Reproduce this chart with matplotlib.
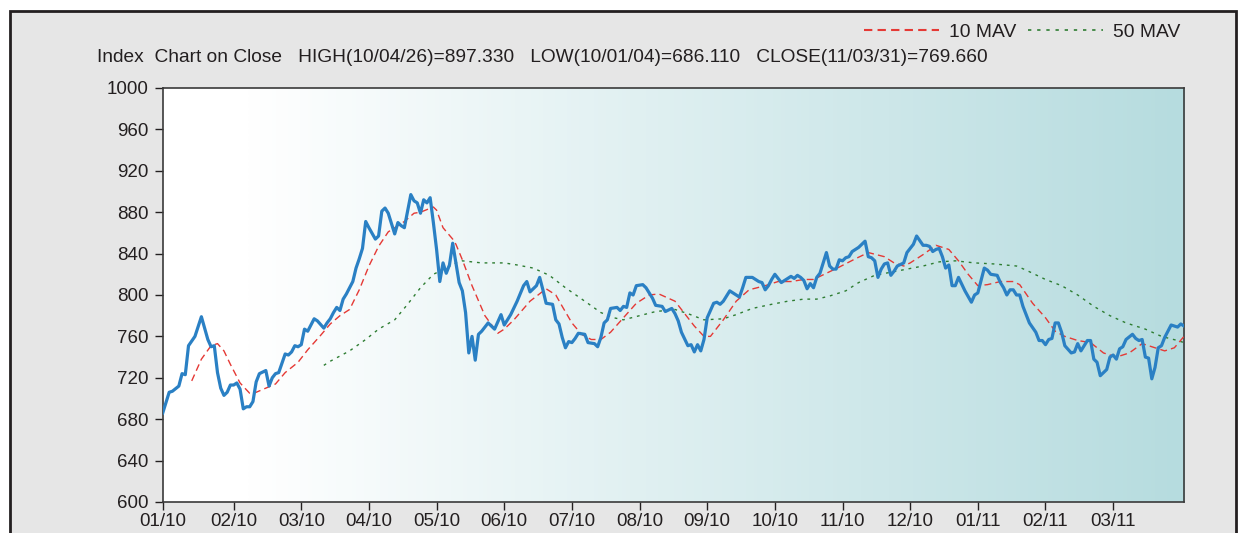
import numpy as np
import matplotlib.pyplot as plt
from matplotlib.colors import LinearSegmentedColormap
from matplotlib.lines import Line2D
from matplotlib.patches import Rectangle

plt.rcParams['font.family'] = ['Liberation Sans', 'DejaVu Sans']

title = ("Index  Chart on Close   HIGH(10/04/26)=897.330   "
         "LOW(10/01/04)=686.110   CLOSE(11/03/31)=769.660")

# x axis: trading day index since 2010-01-04
month_labels = ['01/10', '02/10', '03/10', '04/10', '05/10', '06/10', '07/10', '08/10',
                '09/10', '10/10', '11/10', '12/10', '01/11', '02/11', '03/11']
month_days = [0, 22, 43, 64, 85, 106, 127, 148, 169, 190, 211, 232, 253, 274, 295]
last_day = 317
y_ticks = list(range(600, 1001, 40))

close_day = [0, 1, 2, 3, 5, 6, 7, 8, 10, 12, 14, 15, 16, 17, 18, 19, 20, 21, 22, 23, 24, 25, 26,
             27, 28, 29, 30, 32, 33, 34, 35, 36, 38, 39, 40, 41, 42, 43, 44, 45, 47, 48, 50, 51,
             52, 53, 54, 55, 56, 57, 59, 60, 61, 62, 63, 64, 66, 67, 68, 69, 70, 72, 73, 74, 75,
             76, 77, 78, 79, 80, 81, 82, 83, 84, 85, 86, 87, 88, 89, 90, 92, 93, 94, 95, 96, 97,
             98, 99, 101, 103, 105, 106, 108, 110, 112, 113, 114, 116, 117, 118, 119, 121, 122,
             123, 124, 125, 126, 127, 128, 129, 131, 132, 134, 135, 136, 137, 138, 139, 141, 142,
             143, 144, 145, 146, 147, 149, 150, 152, 153, 155, 156, 158, 159, 160, 161, 163, 164,
             165, 166, 167, 168, 169, 171, 172, 173, 174, 176, 177, 179, 180, 181, 183, 185, 186,
             187, 188, 189, 190, 191, 192, 193, 195, 196, 197, 198, 199, 200, 201, 202, 203, 204,
             205, 206, 207, 208, 209, 210, 211, 212, 213, 214, 216, 217, 218, 219, 220, 221, 222,
             223, 224, 225, 226, 227, 228, 230, 231, 233, 234, 236, 237, 238, 239, 240, 241, 242,
             243, 244, 245, 246, 247, 249, 251, 252, 253, 255, 256, 257, 259, 260, 261, 262, 263,
             264, 265, 266, 267, 269, 271, 272, 273, 274, 275, 276, 277, 278, 279, 280, 282, 283,
             284, 285, 287, 288, 289, 290, 291, 293, 294, 295, 296, 297, 298, 299, 301, 302, 303,
             304, 305, 306, 307, 308, 309, 310, 311, 313, 315, 316, 317]
close = [686, 696, 706, 707, 712, 724, 723, 751, 760, 779, 757, 750, 751, 725, 710, 703, 706, 713,
         713, 715, 709, 690, 692, 692, 697, 716, 724, 727, 712, 720, 724, 725, 743, 742, 745, 751,
         750, 752, 767, 765, 777, 775, 768, 773, 777, 783, 788, 785, 796, 801, 813, 826, 835, 845,
         871, 865, 854, 857, 881, 884, 879, 859, 870, 867, 865, 881, 897, 891, 889, 879, 892, 889,
         894, 870, 844, 813, 831, 821, 829, 850, 812, 804, 783, 744, 760, 737, 762, 765, 773, 767,
         781, 771, 781, 794, 809, 813, 803, 809, 817, 805, 792, 791, 776, 772, 759, 749, 755, 754,
         758, 763, 762, 754, 753, 750, 759, 773, 776, 787, 788, 785, 789, 788, 802, 800, 809, 810,
         807, 797, 790, 789, 784, 787, 782, 775, 764, 751, 752, 745, 752, 746, 757, 778, 792, 793,
         791, 794, 804, 802, 798, 807, 817, 817, 813, 812, 805, 809, 815, 820, 816, 812, 814, 818,
         816, 819, 817, 814, 806, 811, 807, 817, 821, 831, 841, 828, 825, 825, 834, 833, 836, 837,
         842, 846, 849, 852, 837, 836, 833, 817, 825, 830, 831, 819, 823, 828, 831, 841, 849, 857,
         848, 848, 847, 842, 844, 845, 837, 826, 829, 809, 809, 817, 804, 793, 800, 802, 826, 824,
         820, 819, 812, 807, 800, 805, 805, 800, 800, 789, 773, 764, 756, 756, 752, 757, 758, 773,
         773, 764, 751, 744, 745, 753, 746, 756, 756, 738, 735, 722, 728, 740, 742, 738, 748, 750,
         757, 762, 758, 756, 757, 740, 739, 719, 730, 749, 751, 759, 771, 769, 772, 770]

mav10_day = [9, 12, 15, 17, 19, 21, 24, 27, 29, 32, 35, 38, 42, 45, 49, 52, 55, 58, 61, 64, 67,
             70, 73, 75, 78, 80, 84, 85, 87, 90, 91, 93, 96, 100, 104, 106, 109, 114, 119, 122,
             124, 127, 130, 133, 136, 139, 143, 147, 151, 154, 159, 161, 165, 168, 170, 174, 178,
             182, 187, 191, 195, 199, 202, 206, 210, 215, 219, 224, 227, 230, 232, 236, 240, 244,
             247, 250, 253, 256, 260, 264, 266, 270, 274, 277, 280, 284, 288, 292, 296, 300, 304,
             308, 311, 314, 317]
mav10 = [717, 738, 751, 753, 746, 733, 715, 705, 706, 710, 714, 725, 735, 747, 761, 772, 780, 786,
         805, 828, 847, 861, 867, 871, 879, 880, 885, 882, 865, 854, 849, 834, 809, 780, 763, 767,
         776, 794, 806, 800, 789, 773, 762, 757, 757, 764, 778, 792, 800, 801, 794, 786, 770, 760,
         760, 776, 794, 805, 809, 813, 813, 815, 815, 821, 827, 835, 841, 837, 831, 828, 831, 839,
         848, 844, 833, 820, 809, 810, 813, 813, 810, 792, 778, 765, 760, 756, 754, 744, 740, 744,
         753, 749, 746, 749, 760]

mav50_day = [50, 52, 58, 63, 67, 72, 76, 80, 84, 88, 91, 93, 99, 106, 110, 115, 120, 125, 131,
             136, 140, 143, 148, 153, 159, 163, 168, 174, 178, 183, 189, 194, 199, 203, 207, 212,
             216, 221, 226, 231, 236, 241, 246, 252, 258, 265, 268, 274, 279, 284, 289, 294, 299,
             305, 310, 315, 317]
mav50 = [732, 736, 746, 757, 767, 776, 791, 807, 820, 826, 831, 833, 831, 831, 829, 826, 819, 807,
         794, 783, 778, 776, 780, 784, 786, 782, 776, 777, 781, 787, 791, 794, 796, 796, 799, 804,
         812, 819, 822, 825, 828, 832, 833, 831, 830, 828, 824, 815, 809, 800, 789, 780, 773, 767,
         760, 756, 754]

ink = '#231f20'

fig = plt.figure(figsize=(12.47, 5.33), dpi=100)
fig.patch.set_facecolor('white')
# grey panel with dark frame, kept behind the axes
fig.patches.append(Rectangle((10 / 1247, -0.1), 1226 / 1247, 1.1 - 11 / 533,
                             transform=fig.transFigure, facecolor='#e6e6e6',
                             edgecolor=ink, lw=2, zorder=-5))

ax = fig.add_axes([0.1305, 0.0582, 0.8190, 0.7767])
ax.set_zorder(2)

# horizontal white -> teal gradient behind the lines
cmap = LinearSegmentedColormap.from_list('bg', [(0, '#ffffff'), (0.08, '#ffffff'),
                                                (1, '#b6dcdf')])
grad = np.linspace(0, 1, 256).reshape(1, -1)
ax.imshow(grad, extent=[0, last_day, 600, 1000], aspect='auto', cmap=cmap,
          interpolation='bilinear', zorder=0)

ax.plot(mav50_day, mav50, color='#2e7d32', lw=1.0, ls=(0, (2, 3.5)), zorder=2)
ax.plot(mav10_day, mav10, color='#e53935', lw=1.0, ls=(0, (5, 3)), zorder=3)
ax.plot(close_day, close, color='#2a80c4', lw=2.3, zorder=4)

ax.set_xlim(0, last_day)
ax.set_ylim(600, 1000)
ax.set_xticks(month_days)
ax.set_xticklabels(month_labels)
ax.set_yticks(y_ticks)
ax.tick_params(direction='out', length=6, width=1, color=ink, labelcolor=ink,
               labelsize=13.5)
ax.tick_params(axis='y', pad=4)
ax.tick_params(axis='x', pad=2)
for s in ax.spines.values():
    s.set_color('#3a3a3a')
    s.set_linewidth(1.2)

fig.text(97 / 1247, 1 - 58 / 533, title, ha='left', va='center', fontsize=13.8, color=ink)

handles = [Line2D([], [], color='#e53935', lw=1.5, ls=(0, (4, 2.5))),
           Line2D([], [], color='#2e7d32', lw=1.2, ls=(0, (2, 3.5)))]
fig.legend(handles, ['10 MAV', '50 MAV'], loc='center right',
           bbox_to_anchor=(1190 / 1247, 1 - 32 / 533), ncol=2, frameon=False,
           handlelength=3.9, handletextpad=0.5, columnspacing=0.6, borderpad=0,
           fontsize=13.9, labelcolor=ink)

fig.savefig('out.png', dpi=100)
